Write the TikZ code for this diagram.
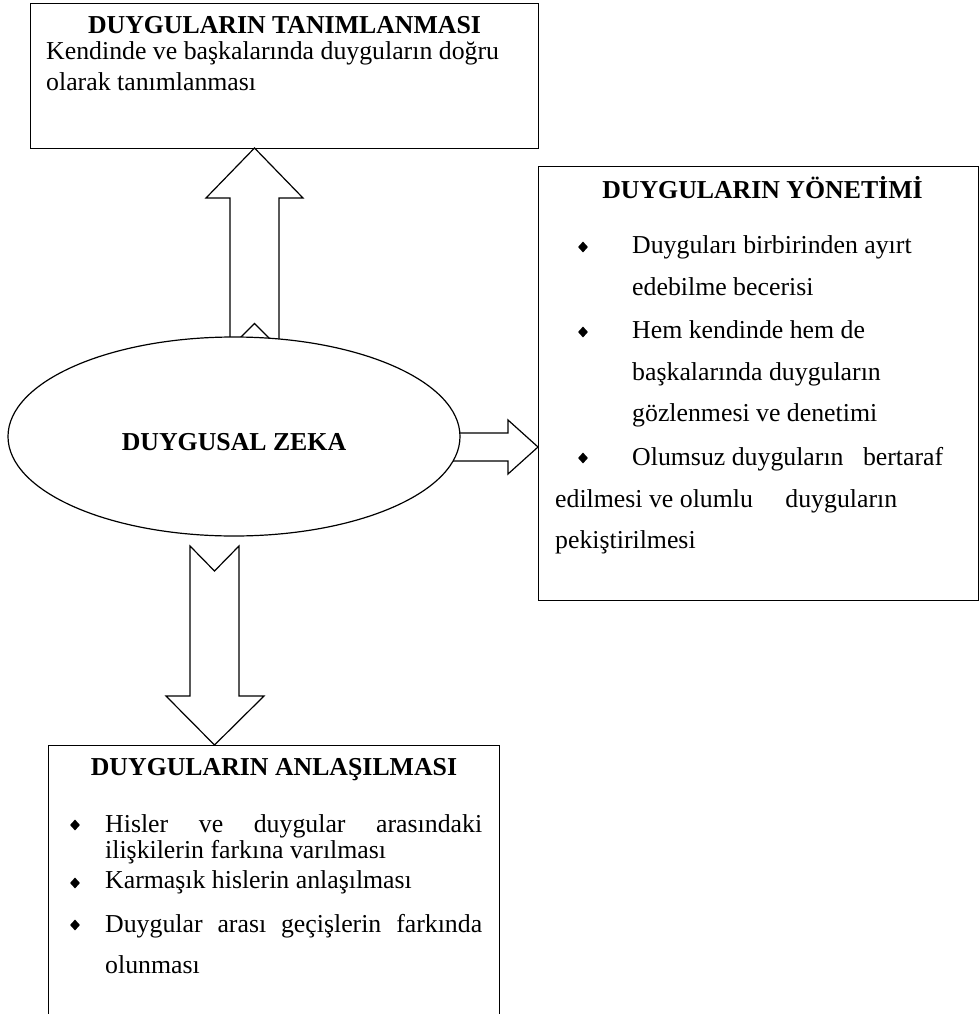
\documentclass[tikz,border=0pt]{standalone}
\usepackage{fontspec}
\setmainfont{Liberation Serif}
\usetikzlibrary{shapes.geometric}
\begin{document}
\begin{tikzpicture}[x=1pt,y=-1pt,
  font=\fontsize{25.8pt}{30pt}\selectfont,
  lw/.style={line width=1.2pt},
  box/.style={draw, lw, fill=white, rectangle, inner sep=0, anchor=north west},
  blockarrow/.style={draw, lw, fill=white, line join=miter},
  txt/.style={anchor=base west, inner sep=0},
  ttl/.style={anchor=base, inner sep=0, font=\fontsize{25.8pt}{30pt}\selectfont\bfseries},
  bul/.style={diamond, fill, draw=none, inner sep=0, minimum width=10pt, minimum height=11pt}
]
\useasboundingbox (0,0) rectangle (979,1014);
\clip (0,0) rectangle (979,1014);
% boxes
\node[box, minimum width=508pt, minimum height=145pt] (tanim) at (30,3) {};
\node[box, minimum width=440pt, minimum height=434pt] (yonetim) at (538,166) {};
\node[box, minimum width=451pt, minimum height=300pt] (anlama) at (48,745) {};
% block arrows
\draw[blockarrow] (230,348) -- (230,198) -- (206,198) -- (254.5,148) -- (303,198) -- (279,198) -- (279,348) -- (254.5,323.5) -- cycle;
\draw[blockarrow] (190,546) -- (214.5,571) -- (239,546) -- (239,696) -- (264,696) -- (214.5,745) -- (166,696) -- (190,696) -- cycle;
\draw[blockarrow] (445,433) -- (508,433) -- (508,420) -- (538,447) -- (508,474) -- (508,461) -- (445,461) -- cycle;
% central ellipse
\node[ellipse, draw, lw, fill=white, minimum width=452pt, minimum height=199pt, inner sep=0] (zeka) at (234,436.5) {};
\node[ttl] (zekatxt) at (234,450) {DUYGUSAL ZEKA};
% top box text
\node[ttl] (t1) at (284.5,34) {DUYGULARIN TANIMLANMASI};
\node[txt] (t2) at (46,60) {Kendinde ve başkalarında duyguların doğru};
\node[txt] (t3) at (46,91) {olarak tanımlanması};
% right box text
\node[ttl] (y0) at (762.5,198) {DUYGULARIN YÖNETİMİ};
\node[bul] (yb1) at (583,247) {};
\node[bul] (yb2) at (583,332) {};
\node[bul] (yb3) at (583,458) {};
\node[txt] (y1) at (632,253) {Duyguları birbirinden ayırt};
\node[txt] (y2) at (632,295) {edebilme becerisi};
\node[txt] (y3) at (632,338) {Hem kendinde hem de};
\node[txt] (y4) at (632,380) {başkalarında duyguların};
\node[txt] (y5) at (632,421) {gözlenmesi ve denetimi};
\node[txt] (y6) at (632,465) {Olumsuz duyguların\hspace{13pt} bertaraf};
\node[txt] (y7) at (555,507) {edilmesi ve olumlu\hspace{26pt} duyguların};
\node[txt] (y8) at (555,548) {pekiştirilmesi};
% bottom box text
\node[ttl] (a0) at (274,775) {DUYGULARIN ANLAŞILMASI};
\node[bul] (ab1) at (75,825) {};
\node[bul] (ab2) at (75,883) {};
\node[bul] (ab3) at (75,925) {};
\node[txt] (a1) at (105,832) {\makebox[377pt][s]{Hisler ve duygular arasındaki}};
\node[txt] (a2) at (105,858) {ilişkilerin farkına varılması};
\node[txt] (a3) at (105,888) {Karmaşık hislerin anlaşılması};
\node[txt] (a4) at (105,932) {\makebox[377pt][s]{Duygular arası geçişlerin farkında}};
\node[txt] (a5) at (105,973) {olunması};
\end{tikzpicture}
\end{document}
